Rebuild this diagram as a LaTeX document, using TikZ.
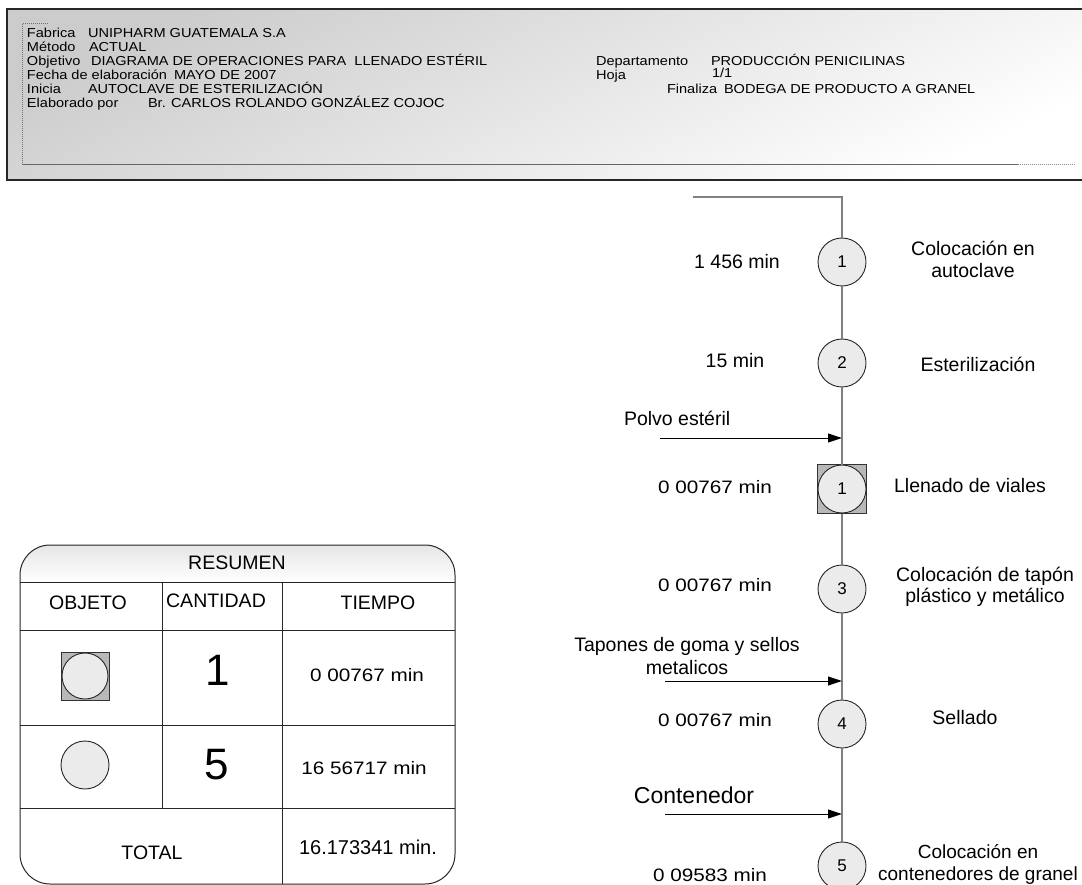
\documentclass[tikz,border=0pt]{standalone}
\usepackage{fontspec}
\setmainfont{Liberation Sans}
\newfontfamily\widesans[FakeStretch=1.15]{Liberation Sans}
\newfontfamily\hdrsans[FakeStretch=1.12]{Liberation Sans}
\usetikzlibrary{arrows.meta}

\begin{document}
\begin{tikzpicture}[x=1pt,y=-1pt,
  every node/.style={inner sep=0pt, outer sep=0pt},
  hdr/.style={anchor=base west, font=\hdrsans\fontsize{13}{15}\selectfont},
  desc/.style={align=center, font=\fontsize{19.5}{22}\selectfont},
  tlbl/.style={font=\fontsize{19.5}{22}\selectfont},
  dec/.style={font=\widesans\fontsize{18}{20}\selectfont},
  oper/.style={circle, draw=black!85, fill=black!8, line width=0.9pt,
    minimum size=48pt, font=\fontsize{17}{20}\selectfont},
  insp/.style={rectangle, draw=black!80, fill=black!28, line width=0.8pt,
    minimum size=49pt},
  flow/.style={draw=black!50, line width=1.5pt},
  feed/.style={draw=black, line width=1pt, -{Triangle[length=14pt,width=9pt]}},
  cell/.style={draw=black!85, line width=1pt},
  head/.style={font=\fontsize{19.5}{22}\selectfont},
  big/.style={font=\fontsize{44}{48}\selectfont},
]
\useasboundingbox (0,0) rectangle (1082,885);

% ---------- header block ----------
\shade[top color=black!20, bottom color=white, shading angle=25]
  (7,9) rectangle (1090,180);
\draw[black!85, line width=1.3pt] (1090,9) -- (7,9) -- (7,180) -- (1090,180);
\draw[black!55, line width=1pt, densely dotted] (48,24) -- (22,24) -- (22,165);
\draw[black!60, line width=1pt] (22,165) -- (1018,165);
\draw[black!45, line width=1pt, densely dotted] (1018,165) -- (1076,165);

% text rows (baselines)
\node[hdr] (lfab) at (27,38)  {Fabrica};
\node[hdr] (vfab) at (88,38)  {UNIPHARM GUATEMALA S.A};
\node[hdr] (lmet) at (27,52)  {Método};
\node[hdr] (vmet) at (89,52)  {ACTUAL};
\node[hdr] (lobj) at (27,66)  {Objetivo};
\node[hdr] (vobj) at (91,66)  {DIAGRAMA DE OPERACIONES PARA \ LLENADO ESTÉRIL};
\node[hdr] (lfec) at (27,80)  {Fecha de elaboración};
\node[hdr] (vfec) at (174,80) {MAYO DE 2007};
\node[hdr] (lini) at (27,94)  {Inicia};
\node[hdr] (vini) at (88,94)  {AUTOCLAVE DE ESTERILIZACIÓN};
\node[hdr] (lela) at (27,108) {Elaborado por};
\node[hdr] (vela) at (148,108) {Br. CARLOS ROLANDO GONZÁLEZ COJOC};
\node[hdr] (ldep) at (596,66) {Departamento};
\node[hdr] (vdep) at (711,66) {PRODUCCIÓN PENICILINAS};
\node[hdr] (lhoj) at (596,80) {Hoja};
\node[hdr] (vhoj) at (712,78) {1/1};
\node[hdr] (lfin) at (667,94) {Finaliza};
\node[hdr] (vfin) at (724,94) {BODEGA DE PRODUCTO A GRANEL};

% ---------- process chart ----------
\coordinate (start) at (693,197);
\coordinate (corner) at (842,197);
\node[oper] (c1) at (842,262) {1};
\node[oper] (c2) at (842,363) {2};
\node[insp] (s1) at (842,489) {};
\node[oper] (o1) at (842,489) {1};
\node[oper] (c3) at (842,589) {3};
\node[oper] (c4) at (842,724) {4};
\node[oper] (c5) at (842,866) {5};
\coordinate (bottom) at (842,900);

\draw[flow] (start) -- (corner) -- (c1);
\draw[flow] (c1) -- (c2);
\draw[flow] (c2) -- (s1);
\draw[flow] (s1) -- (c3);
\draw[flow] (c3) -- (c4);
\draw[flow] (c4) -- (c5);
\draw[flow] (c5) -- (bottom);

% material inputs
\coordinate (j1) at (842,438);
\coordinate (f1) at (660,438);
\coordinate (j2) at (842,681);
\coordinate (f2) at (665,681);
\coordinate (j3) at (842,814);
\coordinate (f3) at (665,814);
\draw[feed] (f1) -- (j1);
\draw[feed] (f2) -- (j2);
\draw[feed] (f3) -- (j3);
\node[tlbl, anchor=west] (in1) at (624,418) {Polvo estéril};
\node[tlbl, align=center, font=\fontsize{19.5}{23}\selectfont] (in2) at (687,656)
  {Tapones de goma y sellos\\metalicos};
\node[font=\fontsize{23}{26}\selectfont] (in3) at (694,795) {Contenedor};

% times
\node[tlbl] (t1) at (737,262) {1 456 min};
\node[tlbl] (t2) at (735,361) {15 min};
\node[dec]  (t3) at (715,487) {0 00767 min};
\node[dec]  (t4) at (715,585) {0 00767 min};
\node[dec]  (t5) at (715,720) {0 00767 min};
\node[dec]  (t6) at (710,875) {0 09583 min};

% descriptions
\node[desc] (d1) at (973,259) {Colocación en\\autoclave};
\node[desc] (d2) at (978,364) {Esterilización};
\node[desc] (d3) at (970,486) {Llenado de viales};
\node[desc, font=\fontsize{19.5}{21}\selectfont] (d4) at (985,587) {Colocación de tapón\\plástico y metálico};
\node[desc] (d5) at (965,718) {Sellado};
\node[desc, font=\fontsize{19}{22}\selectfont] (d6) at (978,864) {Colocación en\\contenedores de granel};

% ---------- summary table ----------
\fill[white, rounded corners=30pt] (20,545) rectangle (455,884);
\begin{scope}
  \clip[rounded corners=30pt] (20,545) rectangle (455,884);
  \shade[top color=black!10, bottom color=white] (20,545) rectangle (455,582);
\end{scope}
\draw[cell, rounded corners=30pt] (20,545) rectangle (455,884);
\draw[cell] (20,582) -- (455,582);
\draw[cell] (20,630) -- (455,630);
\draw[cell] (20,725) -- (455,725);
\draw[cell] (20,808) -- (455,808);
\draw[cell] (162,582) -- (162,808);
\draw[cell] (282,582) -- (282,884);

\node[head] (tres) at (237,563) {RESUMEN};
\node[head] (tobj) at (88,603)  {OBJETO};
\node[head] (tcan) at (216,601) {CANTIDAD};
\node[head] (ttie) at (378,603) {TIEMPO};

\node[insp, minimum size=48pt] (ks) at (85,676) {};
\node[oper, minimum size=46pt] (kc) at (85,676) {};
\node[big] (n1) at (218,670) {1};
\node[dec] (v1) at (367,675) {0 00767 min};

\node[oper, minimum size=48pt] (kc2) at (85,765) {};
\node[big] (n2) at (217,765) {5};
\node[dec] (v2) at (364,768) {16 56717 min};

\node[head] (ttot) at (152,853) {TOTAL};
\node[font=\fontsize{20}{23}\selectfont] (vtot) at (368,847) {16.173341 min.};
\end{tikzpicture}
\end{document}
